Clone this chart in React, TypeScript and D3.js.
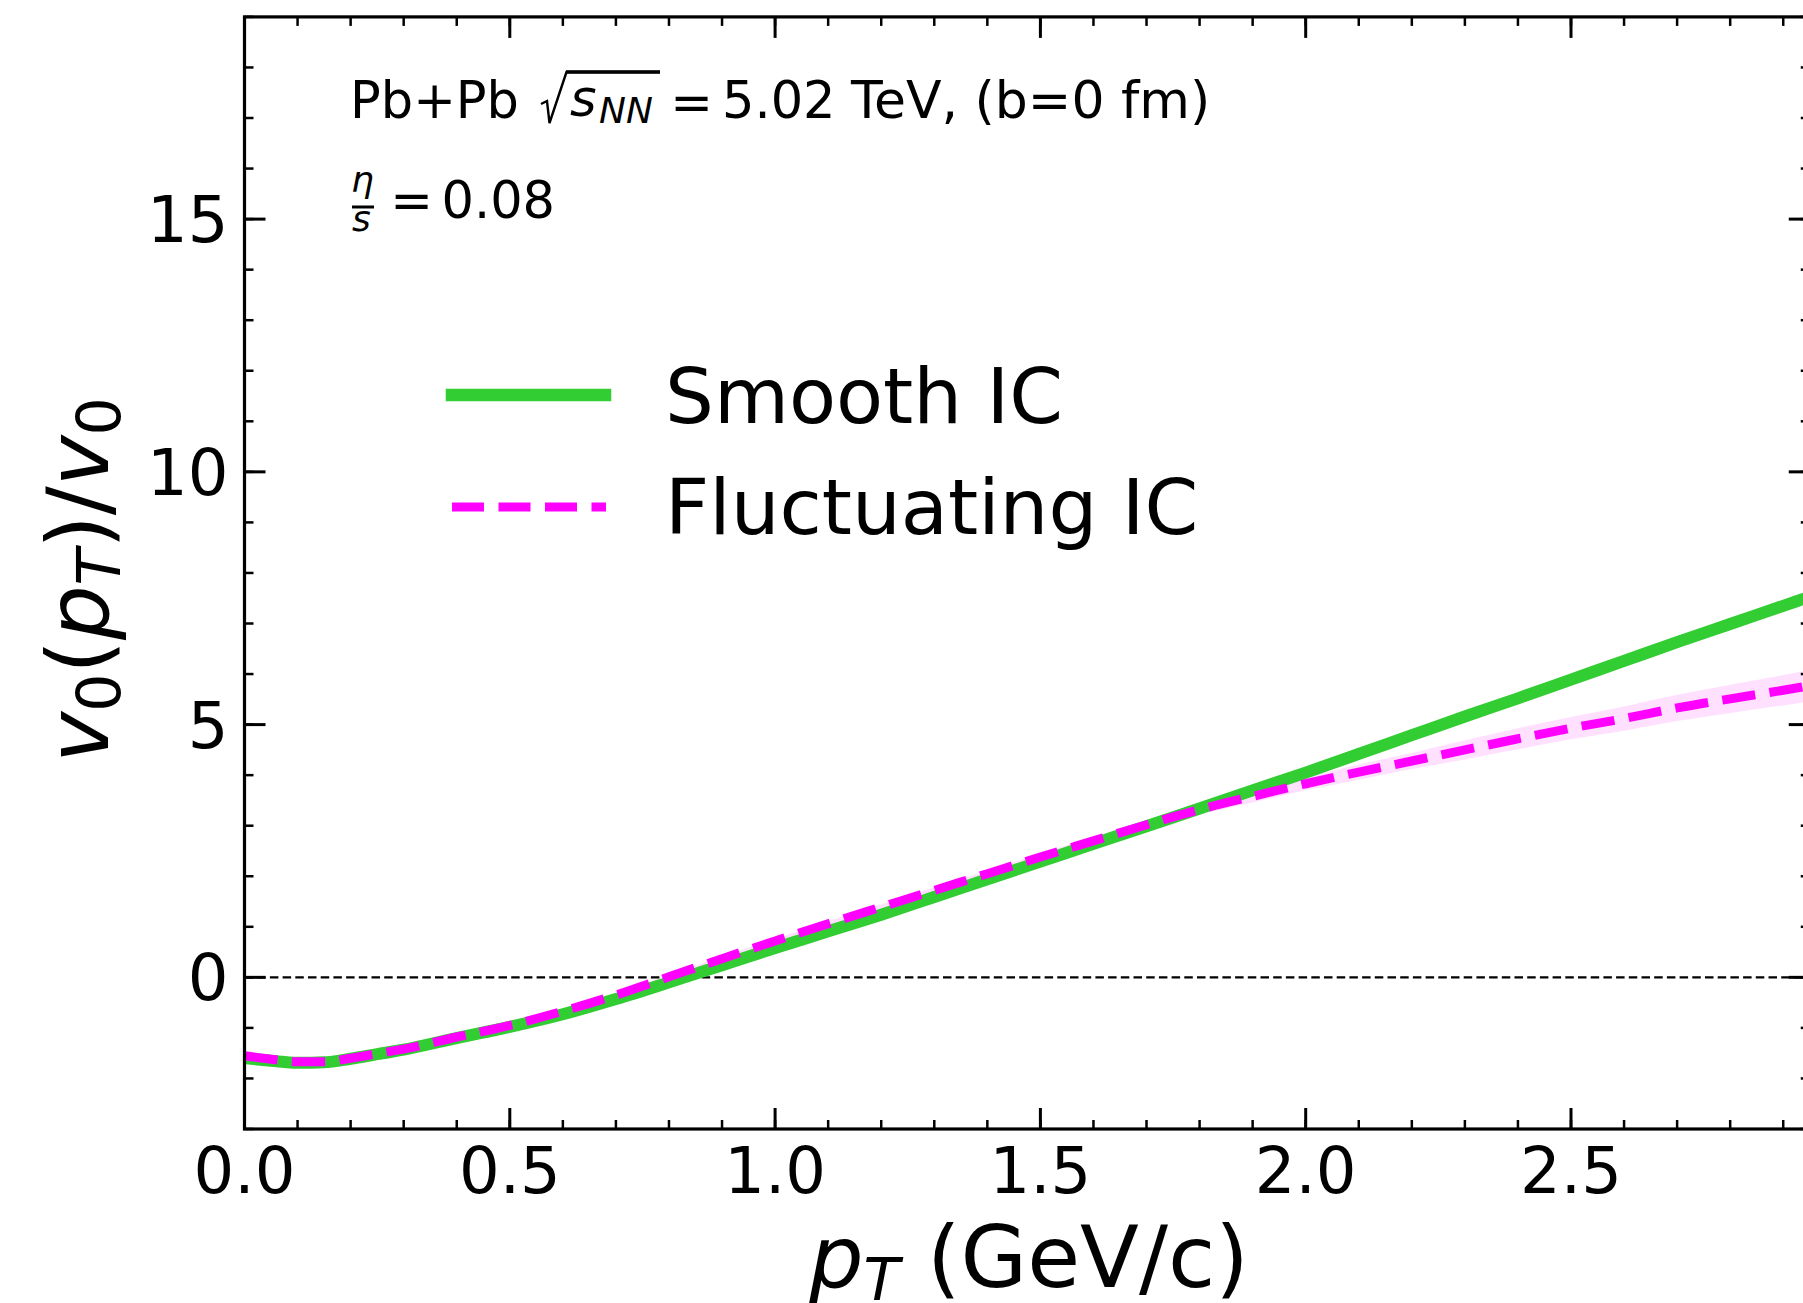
import React from 'react';
import * as d3 from 'd3';

// ---------- data ----------
const pT = [0, 0.05, 0.1, 0.15, 0.2, 0.25, 0.3, 0.4, 0.5, 0.6, 0.7, 0.8, 0.9, 1.0, 1.1, 1.2, 1.3, 1.4, 1.5, 1.6, 1.7, 1.8, 1.9, 2.0, 2.1, 2.2, 2.3, 2.4, 2.5, 2.6, 2.7, 2.8, 2.9, 2.95];
const smoothIC = [-1.60, -1.65, -1.69, -1.68, -1.61, -1.52, -1.43, -1.20, -0.98, -0.73, -0.43, -0.10, 0.24, 0.58, 0.91, 1.24, 1.59, 1.94, 2.29, 2.64, 2.99, 3.34, 3.70, 4.05, 4.42, 4.79, 5.16, 5.52, 5.89, 6.26, 6.63, 6.99, 7.35, 7.53];
const fluctIC = [-1.55, -1.62, -1.67, -1.67, -1.60, -1.51, -1.42, -1.18, -0.95, -0.67, -0.35, 0.01, 0.37, 0.72, 1.06, 1.39, 1.72, 2.05, 2.38, 2.70, 3.02, 3.32, 3.58, 3.83, 4.06, 4.28, 4.50, 4.72, 4.93, 5.12, 5.33, 5.51, 5.68, 5.77];
const fluctErr = [0.03, 0.03, 0.03, 0.03, 0.03, 0.03, 0.03, 0.03, 0.03, 0.03, 0.04, 0.04, 0.04, 0.04, 0.05, 0.05, 0.06, 0.06, 0.07, 0.08, 0.09, 0.10, 0.12, 0.13, 0.15, 0.16, 0.19, 0.21, 0.22, 0.24, 0.26, 0.28, 0.30, 0.31];

const xMajorTicks = [0, 0.5, 1.0, 1.5, 2.0, 2.5];
const xTickLabels = ['0.0', '0.5', '1.0', '1.5', '2.0', '2.5'];
const xMinorTicks = d3.range(0, 30).map((i) => i / 10);
const yMajorTicks = [0, 5, 10, 15];
const yTickLabels = ['0', '5', '10', '15'];
const yMinorTicks = d3.range(-3, 20);

const xDomain = [0, 2.95];
const yDomain = [-3, 19];

const seriesNames = ['Smooth IC', 'Fluctuating IC'];

// ---------- layout ----------
const W = 1803;
const H = 1303;
const L = 244.5;
const R = L + 2.95 * 530.6;
const T = 16.9;
const B = 1129;

const GREEN = '#32cd32';
const MAGENTA = '#ff00ff';
const FONT = 'DejaVu Sans';

export default function App() {
  const x = d3.scaleLinear().domain(xDomain).range([L, R]);
  const y = d3.scaleLinear().domain(yDomain).range([B, T]);

  const idx = pT.map((_, i) => i);
  const line = (vals: number[]) =>
    d3
      .line<number>()
      .x((i) => x(pT[i]))
      .y((i) => y(vals[i]))
      .curve(d3.curveMonotoneX)(idx) as string;
  const band = d3
    .area<number>()
    .x((i) => x(pT[i]))
    .y0((i) => y(fluctIC[i] - fluctErr[i]))
    .y1((i) => y(fluctIC[i] + fluctErr[i]))
    .curve(d3.curveMonotoneX)(idx) as string;

  const majLen = 21;
  const minLen = 9;
  const tickW = 3;

  return (
    <svg
      width={W}
      height={H}
      style={{ position: 'absolute', left: 0, top: 0, background: '#fff' }}
      fontFamily={FONT}
    >
      <defs>
        <clipPath id="plotclip">
          <rect x={L} y={T} width={R - L} height={B - T} />
        </clipPath>
      </defs>
      <rect x={0} y={0} width={W} height={H} fill="#fff" />

      {/* zero line */}
      <line
        x1={L}
        x2={R}
        y1={y(0)}
        y2={y(0)}
        stroke="#000"
        strokeWidth={2.2}
        strokeDasharray="8.5 4.2"
      />

      <g clipPath="url(#plotclip)">
        <path d={band} fill={MAGENTA} fillOpacity={0.12} stroke="none" />
        <path d={line(smoothIC)} fill="none" stroke={GREEN} strokeWidth={12} strokeLinejoin="round" />
        <path
          d={line(fluctIC)}
          fill="none"
          stroke={MAGENTA}
          strokeWidth={9}
          strokeDasharray="33.3 14.4"
          strokeLinejoin="round"
        />
      </g>

      {/* ticks */}
      <g stroke="#000">
        {xMinorTicks.map((v) => (
          <g key={'xm' + v}>
            <line x1={x(v)} x2={x(v)} y1={B} y2={B - minLen} strokeWidth={2.5} />
            <line x1={x(v)} x2={x(v)} y1={T} y2={T + minLen} strokeWidth={2.5} />
          </g>
        ))}
        {xMajorTicks.map((v) => (
          <g key={'xM' + v}>
            <line x1={x(v)} x2={x(v)} y1={B} y2={B - majLen} strokeWidth={tickW} />
            <line x1={x(v)} x2={x(v)} y1={T} y2={T + majLen} strokeWidth={tickW} />
          </g>
        ))}
        {yMinorTicks.map((v) => (
          <g key={'ym' + v}>
            <line x1={L} x2={L + minLen} y1={y(v)} y2={y(v)} strokeWidth={2.5} />
            <line x1={R} x2={R - minLen} y1={y(v)} y2={y(v)} strokeWidth={2.5} />
          </g>
        ))}
        {yMajorTicks.map((v) => (
          <g key={'yM' + v}>
            <line x1={L} x2={L + majLen} y1={y(v)} y2={y(v)} strokeWidth={tickW} />
            <line x1={R} x2={R - majLen} y1={y(v)} y2={y(v)} strokeWidth={tickW} />
          </g>
        ))}
      </g>

      {/* spines */}
      <rect x={L} y={T} width={R - L} height={B - T} fill="none" stroke="#000" strokeWidth={3.2} />

      {/* tick labels */}
      <g fontSize={64} fill="#000">
        {xMajorTicks.map((v, i) => (
          <text key={'xl' + v} x={x(v)} y={B + 64} textAnchor="middle">
            {xTickLabels[i]}
          </text>
        ))}
        {yMajorTicks.map((v, i) => (
          <text key={'yl' + v} x={L - 16} y={y(v) + 23} textAnchor="end">
            {yTickLabels[i]}
          </text>
        ))}
      </g>

      {/* axis labels */}
      <text x={809} y={1287} fontSize={86} fill="#000">
        <tspan fontStyle="italic">p</tspan>
        <tspan fontStyle="italic" fontSize={59} dy={13}>T</tspan>
        <tspan dy={-13}>{'\u00a0(GeV/c)'}</tspan>
      </text>
      <text transform="translate(108,580) rotate(-90)" textAnchor="middle" fontSize={86} fill="#000">
        <tspan fontStyle="italic">v</tspan>
        <tspan fontSize={60} dy={12}>0</tspan>
        <tspan dy={-12}>(</tspan>
        <tspan fontStyle="italic">p</tspan>
        <tspan fontStyle="italic" fontSize={60} dy={12}>T</tspan>
        <tspan dy={-12}>)/</tspan>
        <tspan fontStyle="italic">v</tspan>
        <tspan fontSize={60} dy={12}>0</tspan>
      </text>

      {/* annotations */}
      <g fill="#000">
        <text x={350} y={118} fontSize={51}>Pb+Pb</text>
        <path d="M541,104 L547,101 L549.5,123 L566.5,72 L660,72" fill="none" stroke="#000" strokeWidth={2.4} />
        <line x1={566} x2={660} y1={72} y2={72} stroke="#000" strokeWidth={3.5} />
        <text x={570} y={116} fontSize={51} fontStyle="italic">s</text>
        <text x={599} y={123} fontSize={36} fontStyle="italic">NN</text>
        <text x={691.5} y={120} fontSize={51} textAnchor="middle">=</text>
        <text x={722} y={118} fontSize={51}>5.02</text>
        <text x={851} y={118} fontSize={52}>TeV, (b=0 fm)</text>

        <text x={351} y={192} fontSize={36} fontStyle="italic">η</text>
        <line x1={352} x2={374} y1={207} y2={207} stroke="#000" strokeWidth={3} />
        <text x={352} y={231} fontSize={36} fontStyle="italic">s</text>
        <text x={411.5} y={218} fontSize={51} textAnchor="middle">=</text>
        <text x={441.5} y={218} fontSize={51}>0.08</text>
      </g>

      {/* legend */}
      <line x1={452} x2={605} y1={395} y2={395} stroke={GREEN} strokeWidth={12.5} strokeLinecap="square" />
      <line x1={452} x2={606} y1={507} y2={507} stroke={MAGENTA} strokeWidth={9} strokeDasharray="32 14.5" />
      <text x={665} y={423} fontSize={77} fill="#000">{seriesNames[0]}</text>
      <text x={665} y={534} fontSize={77} fill="#000">{seriesNames[1]}</text>
    </svg>
  );
}
